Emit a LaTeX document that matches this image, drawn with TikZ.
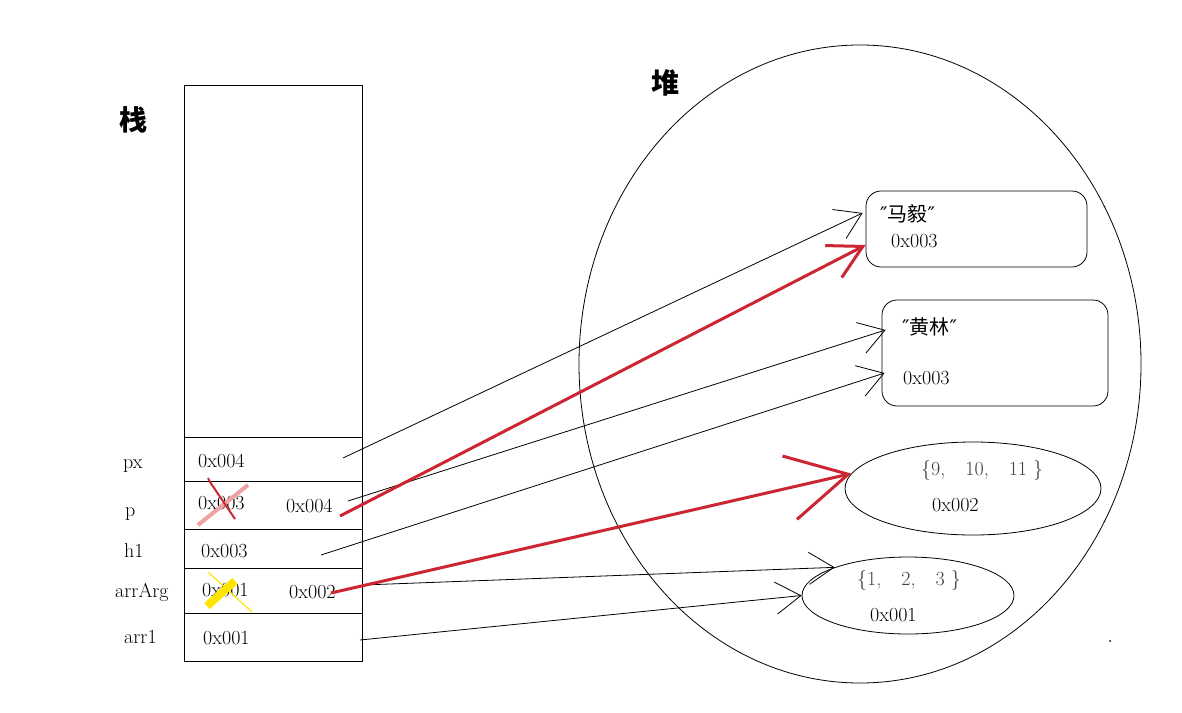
\documentclass[tikz,border=0pt]{standalone}
\usepackage{fontspec}
\usetikzlibrary{arrows.meta,shapes.geometric}
\newfontfamily\cjk{Noto Sans CJK SC}
\newfontfamily\dejavu{DejaVu Sans}
\definecolor{pen}{RGB}{204,38,50}
\definecolor{hilite}{RGB}{255,228,0}
\definecolor{pinkpen}{RGB}{238,162,162}
\tikzset{
  txt/.style={anchor=base west,inner sep=0pt,font=\fontsize{20}{22}\selectfont},
  big/.style={anchor=center,inner sep=0pt,font=\cjk\bfseries\fontsize{28}{30}\selectfont},
  cell/.style={draw,line width=0.8,minimum width=178,inner sep=0},
  heapbox/.style={draw,rounded corners=15,line width=0.8,inner sep=0},
  blob/.style={draw,ellipse,line width=0.8,inner sep=0},
  ref/.style={line width=0.8,-{Straight Barb[length=25,width=32]}},
  redref/.style={pen,line width=3,-{Straight Barb[length=33,width=36]}},
}
\begin{document}
\begin{tikzpicture}[x=1pt,y=1pt,yscale=-1]
\useasboundingbox (0,0) rectangle (1182,712);
% stack
\node[big] (stk) at (133,120) {栈};
\node[cell,minimum height=352] (top) at (273,261) {};
\node[cell,minimum height=44] (cpx) at (273,459) {};
\node[cell,minimum height=48] (cp) at (273,505) {};
\node[cell,minimum height=39] (ch) at (273,548.5) {};
\node[cell,minimum height=45] (carg) at (273,590.5) {};
\node[cell,minimum height=48] (carr) at (273,637) {};
\node[txt] (lpx) at (123,468) {px};
\node[txt] (lp) at (125,516) {p};
\node[txt] (lh) at (124,557) {h1};
\node[txt] (larg) at (115,597) {arrArg};
\node[txt] (larr) at (124,643) {arr1};
\node[txt] (vpx) at (198,467) {0x004};
\node[txt] (vpold) at (198,509) {0x003};
\node[txt] (vpnew) at (286,512) {0x004};
\node[txt] (vh) at (201,557) {0x003};
\node[txt] (vargold) at (202,596) {0x001};
\node[txt] (vargnew) at (289,598) {0x002};
\node[txt] (varr) at (203,644) {0x001};
% crossed out values
\draw[pinkpen,line width=4] (198,525) -- (248,485);
\draw[pen,line width=2] (235,519) -- (210,482) -- (208,478);
\draw[hilite,line width=1.2] (208,572) -- (252,612);
\draw[hilite,line width=8] (207,606) -- (235,581);
% heap
\node[big] (hp) at (665,83) {堆};
\node[blob,minimum width=562,minimum height=638] (heap) at (860,364) {};
\node[heapbox,minimum width=221,minimum height=76] (ma) at (976.5,229) {};
\node[txt] (tma) at (880,221) {{\dejavu″}{\cjk 马毅}{\dejavu″}};
\node[txt] (ama) at (891,247) {0x003};
\node[heapbox,minimum width=226,minimum height=106] (hl) at (995,353) {};
\node[txt] (thl) at (902,334) {{\dejavu″}{\cjk 黄林}{\dejavu″}};
\node[txt] (ahl) at (903,384) {0x003};
\node[blob,minimum width=256,minimum height=93] (arrb) at (973,488.5) {};
\node[txt,black!75] (tarrb) at (921,475) {\{9,\quad 10,\quad 11\ \}};
\node[txt] (aarrb) at (932,511) {0x002};
\node[blob,minimum width=212,minimum height=77] (arra) at (908,595.5) {};
\node[txt,black!75] (tarra) at (857,585) {\{1,\quad 2,\quad 3\ \}};
\node[txt] (aarra) at (870,621) {0x001};
\fill (1110,641) circle (1);
% references
\coordinate (fpx) at (343,458);
\coordinate (fp) at (348,501);
\coordinate (fh) at (321,555);
\coordinate (farg) at (363,585);
\coordinate (farr) at (360,640);
\coordinate (fpred) at (340,516);
\coordinate (fargred) at (331,593);
\draw[ref] (fpx) -- ([xshift=-3,yshift=-16]ma.west);
\draw[ref] (fp) -- ([xshift=4,yshift=-23]hl.west);
\draw[ref] (fh) -- ([xshift=3,yshift=20]hl.west);
\draw[ref] (farg) -- (arra.159);
\draw[ref] (farr) -- (arra.west);
\draw[redref] (fpred) -- ([yshift=16]ma.west);
\draw[redref,-{Straight Barb[length=60,width=65]}] (fargred) -- (arrb.173);
\end{tikzpicture}
\end{document}
